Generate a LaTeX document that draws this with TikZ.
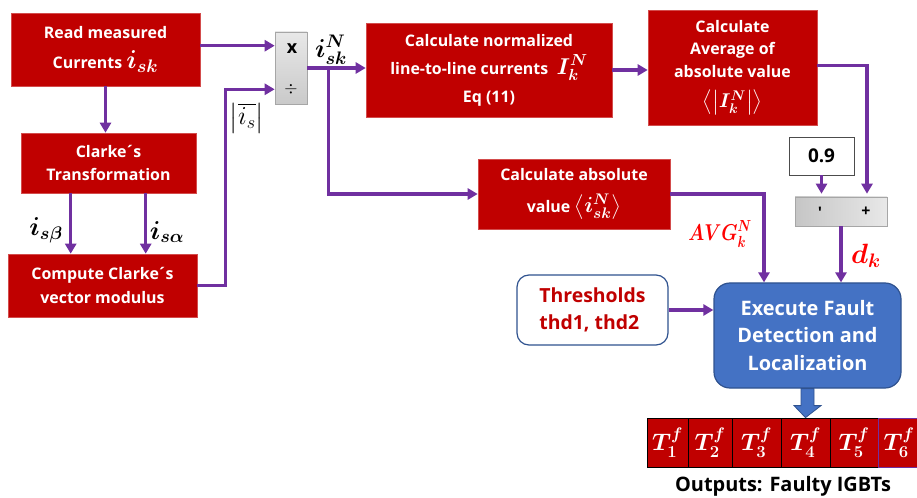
\RequirePackage{fix-cm}
\documentclass[tikz,border=0pt]{standalone}
\usepackage{amsmath,bm,graphicx}
\usepackage[no-math]{fontspec}
\setmainfont{Open Sans}
\usetikzlibrary{arrows.meta,calc}
\definecolor{boxred}{HTML}{C00000}
\definecolor{arrpurple}{HTML}{7030A0}
\definecolor{blueF}{HTML}{4472C4}
\definecolor{blueD}{HTML}{2F528F}
\definecolor{lblred}{HTML}{FF0000}
\newcommand\fsz[2]{\fontsize{#1}{#2}\selectfont}
\newcommand\clk{Clarke\kern-1.5bp´\kern-1.5bp s}
\begin{document}
\begin{tikzpicture}[x=1bp,y=-1bp,
  redbox/.style={fill=boxred, draw=boxred!70!white, line width=0.6bp, text=white,
    font=\fsz{16}{23}\bfseries, align=center, inner sep=0pt},
  graybox/.style={draw=gray!70, line width=0.6bp, inner sep=0pt},
  arr/.style={draw=arrpurple, line width=3.2bp, -{Triangle[length=10bp,width=11bp]}},
  tbox/.style={fill=boxred, draw=black, line width=0.8bp, text=white, minimum height=49bp,
    inner sep=0pt, font=\fsz{24}{24}},
  lbl/.style={inner sep=0pt}]
\useasboundingbox (0,0) rectangle (917,498);
% boxes
\node[redbox, minimum width=189bp, minimum height=73bp, font=\fsz{16}{30}\bfseries] (Read) at (105.5,49.5)
  {Read measured\\ Currents {\fsz{26}{26}$\bm{i_{sk}}$}};
\node[redbox, minimum width=175bp, minimum height=60bp] (Clarke) at (108.5,163)
  {\clk\\ Transformation};
\node[redbox, minimum width=189bp, minimum height=63bp, font=\fsz{16}{25}\bfseries] (Comp) at (102.5,285.5)
  {Compute \clk\\ vector modulus};
\node[graybox, top color=gray!18, bottom color=gray!42, minimum width=32bp, minimum height=72bp] (Mult) at (291,68) {};
\node[font=\fsz{18}{18}\bfseries] (mx) at (292,49) {x};
\node[font=\fsz{17}{17}\bfseries] (md) at (291,89) {$\div$};
\node[redbox, minimum width=246bp, minimum height=94bp, font=\fsz{16}{28}\bfseries] (Norm) at (489,70)
  {Calculate normalized\\ line-to-line currents~~{\fsz{23}{23}$\bm{I_k^N}$}\\ Eq (11)};
\node[redbox, minimum width=169bp, minimum height=115bp, font=\fsz{16}{22.5}\bfseries] (Avg) at (732.5,67.5)
  {Calculate\\ Average of\\ absolute value\\[8bp] {\fsz{20}{20}$\bm{\big\langle\big|I_k^N\big|\big\rangle}$}};
\node[redbox, minimum width=192bp, minimum height=70bp, font=\fsz{16}{32}\bfseries] (Abs) at (574,194)
  {Calculate absolute\\ value {\fsz{22}{22}$\bm{\big\langle i_{sk}^N\big\rangle}$}};
\node[draw=black!70, line width=0.8bp, fill=white, minimum width=65bp, minimum height=38bp, inner sep=0pt,
  font=\fsz{19}{19}\bfseries] (P9) at (821.5,156) {0.9};
\node[graybox, left color=gray!45, right color=gray!18, minimum width=92bp, minimum height=29bp] (Sum) at (841,211.5) {};
\node[font=\fsz{16}{16}\bfseries] (sm) at (820,213) {\textquotesingle};
\node[font=\fsz{16}{16}\bfseries] (sp) at (866,212) {+};
\node[draw=blueD, line width=1.2bp, fill=blueF, rounded corners=16bp, minimum width=187bp, minimum height=105bp,
  inner sep=0pt, text=white, align=center, font=\fsz{20}{28}\bfseries] (Blue) at (807.5,335.5)
  {Execute Fault\\ Detection and\\ Localization};
\node[draw=blueD, line width=1.2bp, fill=white, rounded corners=12bp, minimum width=151bp, minimum height=70bp,
  inner sep=0pt, text=boxred, align=left, font=\fsz{19.5}{27}\bfseries] (Thr) at (592.5,310)
  {Thresholds\\ thd1, thd2};
% T boxes
\node[tbox, minimum width=41bp] (T1) at (667.5,442.5) {$\bm{T_1^f}$};
\node[tbox, minimum width=44bp] (T2) at (710,442.5) {$\bm{T_2^f}$};
\node[tbox, minimum width=49bp] (T3) at (756.5,442.5) {$\bm{T_3^f}$};
\node[tbox, minimum width=49bp] (T4) at (805.5,442.5) {$\bm{T_4^f}$};
\node[tbox, minimum width=48bp] (T5) at (854,442.5) {$\bm{T_5^f}$};
\node[tbox, draw=arrpurple, minimum width=42bp] (T6) at (899,442.5) {$\bm{T_6^f}$};
\node[font=\fsz{20}{20}\bfseries] (Out) at (783,486) {Outputs: Faulty IGBTs};
% labels
\node[lbl, font=\fsz{26}{26}] (lb) at (46,230) {$\bm{i_{s\beta}}$};
\node[lbl, font=\fsz{26}{26}] (la) at (167,232) {$\bm{i_{s\alpha}}$};
\node[lbl, font=\fsz{26}{26}] (lis) at (247,118) {$\left|\overline{i_s}\right|$};
\node[lbl, font=\fsz{26}{26}] (lN) at (331,50) {$\bm{i_{sk}^N}$};
\node[lbl, text=lblred, font=\fsz{23}{23}] (lavg) at (720,234) {\scalebox{0.8}[1]{$\bm{AVG_k^N}$}};
\node[lbl, text=lblred, font=\fsz{28}{28}] (ld) at (866,256) {$\bm{d_k}$};
% connectors
\coordinate (m1) at ($(Mult.north west)+(0,14)$);
\coordinate (m2) at ($(Mult.south west)+(0,-15)$);
\draw[arr] (Read.east |- m1) -- (m1);
\draw[arr] (Comp.east) -- ++(28,0) |- (m2);
\draw[arr] (Read.south) -- (Read.south |- Clarke.north);
\coordinate (c1) at ($(Clarke.south west)+(50,0)$);
\coordinate (c2) at ($(Clarke.south west)+(125,0)$);
\draw[arr] (c1) -- (c1 |- Comp.north);
\draw[arr] (c2) -- (c2 |- Comp.north);
\draw[arr] (Mult.east) -- (Mult.east -| Norm.west);
\coordinate (br) at ($(Mult.east)+(21,0)$);
\draw[arr] (br) |- (Abs.west);
\draw[arr] (Norm.east) -- (Norm.east -| Avg.west);
\coordinate (sq) at ($(Sum.north)+(26,-3)$);
\draw[arr] ([yshift=2bp]Avg.east) -| (sq);
\draw[arr] (P9.south) -- ($(P9.south |- Sum.north)+(0,-3)$);
\draw[arr] (Sum.south) -- (Sum.south |- Blue.north);
\coordinate (bp) at ($(Blue.north)+(-43.5,0)$);
\draw[arr] (Abs.east) -| (bp);
\draw[arr] (Thr.east) -- (Thr.east -| Blue.west);
% block arrow
\coordinate (bs) at (Blue.south);
\filldraw[fill=blueF, draw=blueD, line width=0.8bp]
  ($(bs)+(-6.5,0)$) -- ++(0,17) -- ++(-7,0) -- (T4.north) -- ($(bs)+(13.5,17)$) -- ++(-7,0) -- ($(bs)+(6.5,0)$) -- cycle;
\end{tikzpicture}
\end{document}
